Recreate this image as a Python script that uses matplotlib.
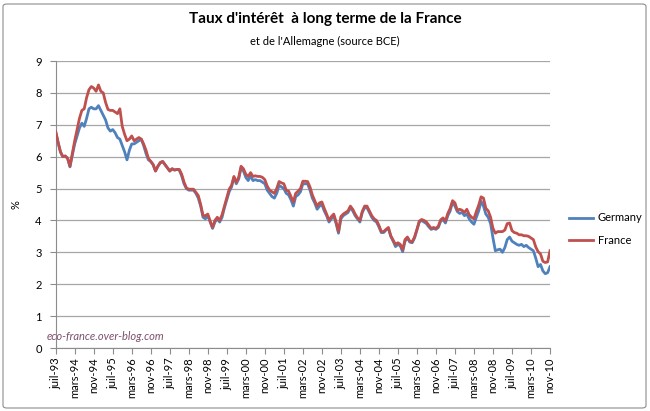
import matplotlib
matplotlib.use("Agg")
import matplotlib.pyplot as plt
from matplotlib.patches import FancyBboxPatch
import numpy as np

# Monthly long-term interest rates (%), juil-93 .. nov-10
germany = [
    # 1993 Jul-Dec
    6.78, 6.45, 6.15, 6.00, 6.02, 5.95,
    # 1994
    5.68, 6.05, 6.40, 6.65, 6.90, 7.05, 6.95, 7.20, 7.50, 7.55, 7.50, 7.50,
    # 1995
    7.60, 7.45, 7.30, 7.15, 6.90, 6.80, 6.85, 6.75, 6.60, 6.55, 6.35, 6.15,
    # 1996
    5.90, 6.20, 6.40, 6.40, 6.45, 6.50, 6.55, 6.35, 6.10, 5.90, 5.85, 5.75,
    # 1997
    5.55, 5.70, 5.80, 5.85, 5.75, 5.65, 5.55, 5.62, 5.58, 5.60, 5.58, 5.40,
    # 1998
    5.15, 5.00, 4.95, 4.95, 4.95, 4.85, 4.70, 4.45, 4.10, 4.05, 4.15, 3.95,
    # 1999
    3.75, 3.95, 4.05, 3.95, 4.10, 4.40, 4.65, 4.90, 5.05, 5.35, 5.15, 5.30,
    # 2000
    5.65, 5.55, 5.35, 5.25, 5.40, 5.25, 5.28, 5.25, 5.25, 5.20, 5.15, 4.95,
    # 2001
    4.85, 4.75, 4.70, 4.85, 5.10, 5.05, 5.00, 4.85, 4.80, 4.65, 4.45, 4.75,
    # 2002
    4.80, 4.90, 5.15, 5.15, 5.15, 4.95, 4.70, 4.55, 4.35, 4.45, 4.50, 4.30,
    # 2003
    4.15, 3.95, 4.05, 4.15, 3.90, 3.60, 4.05, 4.15, 4.20, 4.25, 4.40, 4.30,
    # 2004
    4.15, 4.05, 3.95, 4.25, 4.40, 4.40, 4.25, 4.10, 4.00, 3.95, 3.80, 3.62,
    # 2005
    3.62, 3.70, 3.75, 3.50, 3.35, 3.18, 3.25, 3.20, 3.02, 3.35, 3.45, 3.32,
    # 2006
    3.30, 3.45, 3.70, 3.95, 4.00, 3.95, 3.90, 3.80, 3.72, 3.75, 3.72, 3.78,
    # 2007
    3.98, 4.02, 3.92, 4.15, 4.30, 4.58, 4.45, 4.28, 4.22, 4.25, 4.15, 4.20,
    # 2008
    4.05, 3.95, 3.88, 4.10, 4.30, 4.60, 4.45, 4.20, 4.10, 3.90, 3.45, 3.05,
    # 2009
    3.08, 3.10, 3.00, 3.15, 3.40, 3.48, 3.35, 3.30, 3.25, 3.22, 3.25, 3.18,
    # 2010 Jan-Nov
    3.22, 3.15, 3.10, 3.05, 2.82, 2.55, 2.62, 2.42, 2.33, 2.36, 2.55,
]

france = [
    # 1993 Jul-Dec
    6.78, 6.45, 6.15, 6.00, 6.02, 5.95,
    # 1994
    5.70, 6.10, 6.50, 6.85, 7.20, 7.45, 7.50, 7.85, 8.10, 8.20, 8.15, 8.05,
    # 1995
    8.25, 8.05, 8.00, 7.70, 7.48, 7.45, 7.45, 7.40, 7.35, 7.50, 6.95, 6.70,
    # 1996
    6.50, 6.55, 6.65, 6.50, 6.55, 6.60, 6.55, 6.40, 6.20, 5.95, 5.85, 5.75,
    # 1997
    5.55, 5.70, 5.82, 5.85, 5.75, 5.65, 5.55, 5.62, 5.58, 5.60, 5.60, 5.45,
    # 1998
    5.20, 5.02, 4.98, 4.98, 4.98, 4.88, 4.78, 4.50, 4.15, 4.15, 4.20, 3.98,
    # 1999
    3.78, 4.00, 4.10, 4.00, 4.18, 4.45, 4.72, 4.98, 5.10, 5.38, 5.20, 5.35,
    # 2000
    5.70, 5.62, 5.45, 5.38, 5.50, 5.38, 5.40, 5.38, 5.38, 5.35, 5.28, 5.08,
    # 2001
    4.95, 4.90, 4.85, 5.00, 5.22, 5.18, 5.15, 4.95, 4.92, 4.75, 4.58, 4.85,
    # 2002
    4.92, 5.00, 5.23, 5.23, 5.22, 5.05, 4.80, 4.62, 4.45, 4.55, 4.58, 4.38,
    # 2003
    4.20, 4.00, 4.12, 4.20, 3.95, 3.65, 4.12, 4.20, 4.25, 4.30, 4.45, 4.35,
    # 2004
    4.20, 4.08, 4.00, 4.28, 4.45, 4.45, 4.30, 4.15, 4.05, 4.00, 3.85, 3.65,
    # 2005
    3.65, 3.72, 3.78, 3.52, 3.38, 3.25, 3.30, 3.25, 3.08, 3.40, 3.48, 3.35,
    # 2006
    3.33, 3.48, 3.72, 3.98, 4.03, 4.00, 3.95, 3.85, 3.75, 3.78, 3.75, 3.82,
    # 2007
    4.02, 4.08, 3.98, 4.22, 4.38, 4.62, 4.55, 4.32, 4.35, 4.32, 4.25, 4.35,
    # 2008
    4.18, 4.10, 4.05, 4.28, 4.48, 4.74, 4.70, 4.38, 4.30, 4.10, 3.75, 3.60,
    # 2009
    3.65, 3.65, 3.65, 3.70, 3.90, 3.92, 3.68, 3.62, 3.60, 3.55, 3.55, 3.52,
    # 2010 Jan-Nov
    3.52, 3.50, 3.45, 3.40, 3.17, 3.02, 2.95, 2.72, 2.68, 2.70, 3.05,
]

tick_labels = [
    "juil-93", "mars-94", "nov-94", "juil-95", "mars-96", "nov-96",
    "juil-97", "mars-98", "nov-98", "juil-99", "mars-00", "nov-00",
    "juil-01", "mars-02", "nov-02", "juil-03", "mars-04", "nov-04",
    "juil-05", "mars-06", "nov-06", "juil-07", "mars-08", "nov-08",
    "juil-09", "mars-10", "nov-10",
]
tick_step = 8  # months between labels

series_names = ["Germany", "France"]
series_colors = ["#4F81BD", "#C0504D"]

plt.rcParams['font.family'] = ['Lato', 'DejaVu Sans']

W, H = 650, 411
fig = plt.figure(figsize=(W / 100, H / 100), dpi=100)

# outer chart border
border = FancyBboxPatch((3 / W, 3 / H), (W - 7) / W, (H - 7) / H,
                        boxstyle="round,pad=0,rounding_size=0.006",
                        transform=fig.transFigure, fill=False,
                        edgecolor="#8c8c8c", linewidth=0.8)
fig.patches.append(border)

left, right, top, bottom = 55.7, 550, 61, 348
ax = fig.add_axes([left / W, 1 - bottom / H, (right - left) / W, (bottom - top) / H])

x = np.arange(len(germany))
ax.plot(x, germany, color=series_colors[0], lw=2.0, label=series_names[0],
        solid_joinstyle="round", zorder=3)
ax.plot(x, france, color=series_colors[1], lw=2.0, label=series_names[1],
        solid_joinstyle="round", zorder=4)

ax.set_xlim(0, len(germany) - 1)
ax.set_ylim(0, 9)
ax.set_yticks(range(0, 10))
ax.set_xticks(np.arange(0, len(germany), tick_step))
ax.set_xticklabels(tick_labels, rotation=90, fontsize=8, color="#000000")
ax.tick_params(axis="y", labelsize=8, length=4, width=0.8, color="#8c8c8c", pad=6)
ax.tick_params(axis="x", length=4, width=0.8, color="#8c8c8c", pad=3)

ax.yaxis.grid(True, color="#a6a6a6", linewidth=0.9)
ax.set_axisbelow(True)
for s in ["top", "right"]:
    ax.spines[s].set_visible(False)
ax.spines["left"].set_color("#8c8c8c")
ax.spines["bottom"].set_color("#8c8c8c")

ax.set_ylabel("%", fontsize=8)
ax.yaxis.set_label_coords((22 - left) / (right - left), 0.5)

fig.text(0.5, 1 - 19 / H, "Taux d'intérêt  à long terme de la France",
         ha="center", va="center", fontsize=11, fontweight="bold")
fig.text(0.5, 1 - 41 / H, "et de l'Allemagne (source BCE)",
         ha="center", va="center", fontsize=8)

fig.text(47 / W, 1 - 336 / H, "eco-france.over-blog.com", ha="left", va="center",
         fontsize=8, style="italic", color="#7f4f6f")

leg = ax.legend(loc="center left", bbox_to_anchor=(559 / W, 1 - 229 / H),
                bbox_transform=fig.transFigure, frameon=False, fontsize=8,
                handlelength=2.2, handletextpad=0.4, labelspacing=1.0)

fig.savefig("out.png", dpi=100)
